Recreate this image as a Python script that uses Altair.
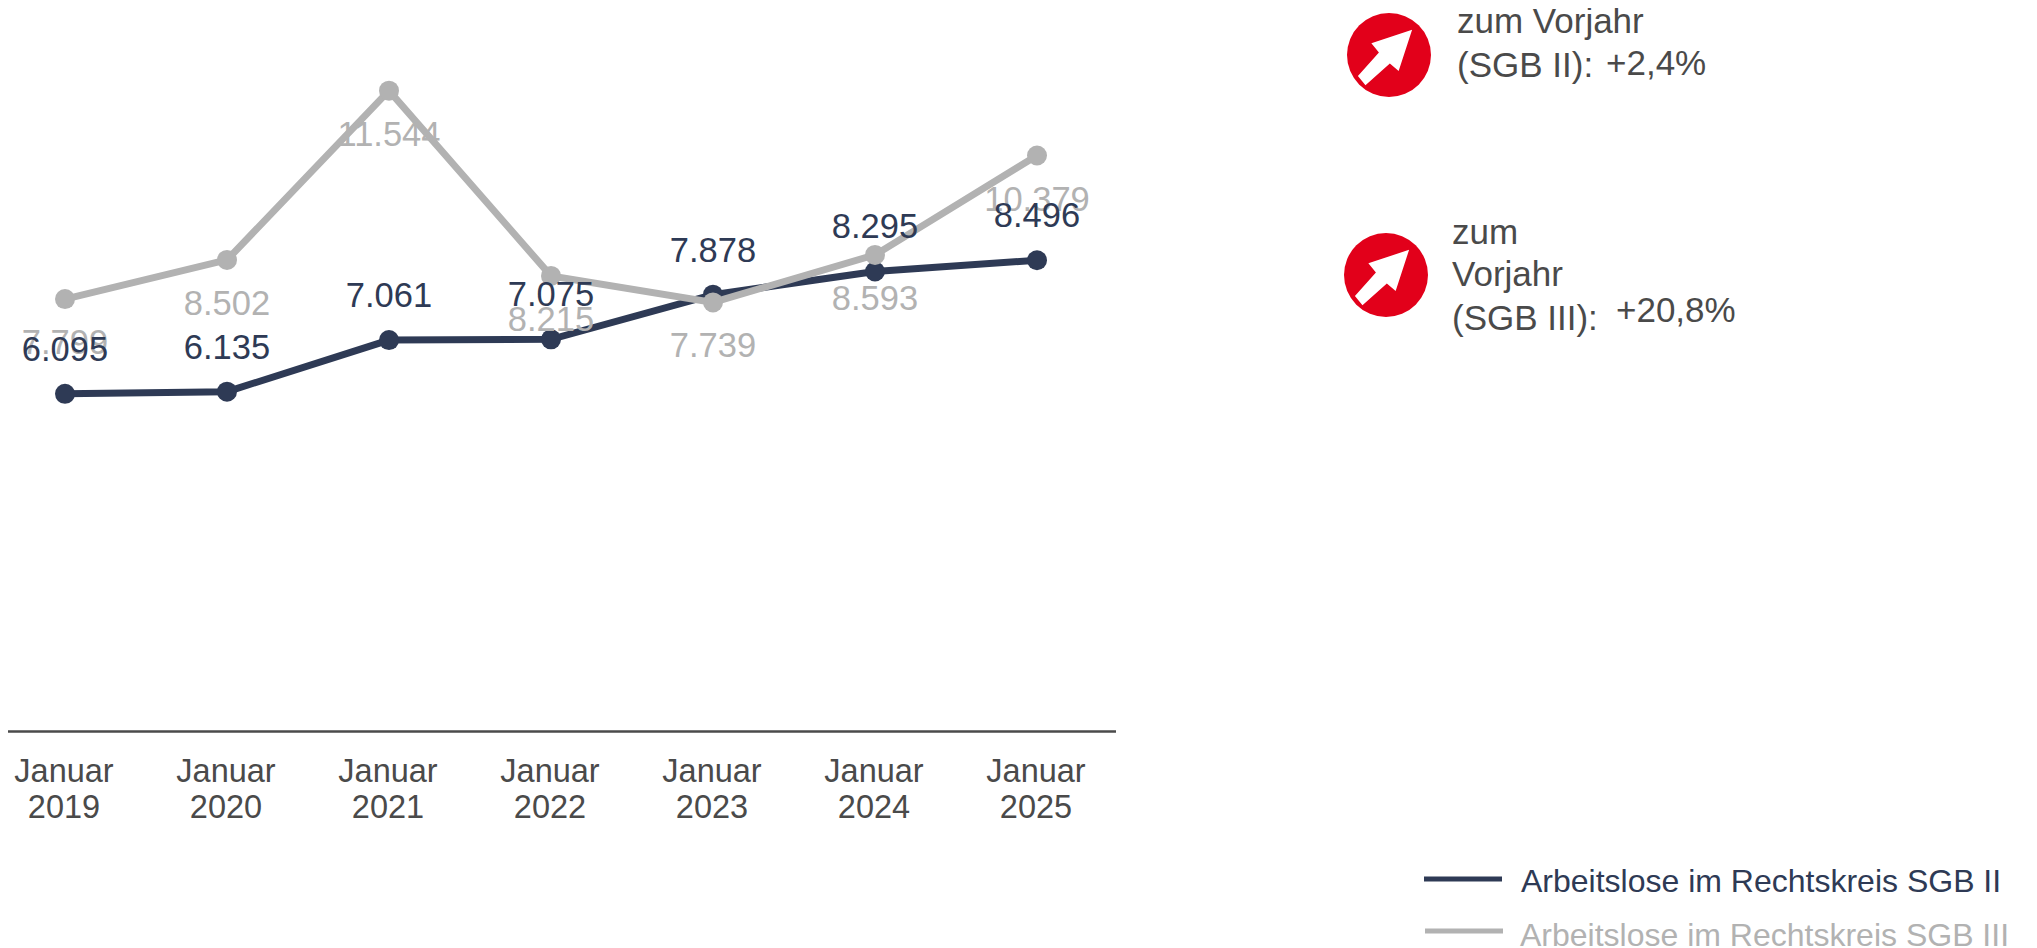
import altair as alt
import pandas as pd

months = ["Januar 2019", "Januar 2020", "Januar 2021", "Januar 2022", "Januar 2023", "Januar 2024", "Januar 2025"]
sgb2 = [6095, 6135, 7061, 7075, 7878, 8295, 8496]
sgb3 = [7799, 8502, 11544, 8215, 7739, 8593, 10379]
series_names = ["Arbeitslose im Rechtskreis SGB II", "Arbeitslose im Rechtskreis SGB III"]

DARK = "#2E3A55"
GRAY = "#B2B2B2"
TEXT = "#4A4A4A"
RED = "#E2001A"
FONT = "Liberation Sans"
PLOT_W, PLOT_H = 1108, 725


def lab(v):
    return f"{v:,}".replace(",", ".")


d2 = pd.DataFrame({"m": months, "v": sgb2, "t": [lab(v) for v in sgb2]})
d3 = pd.DataFrame({"m": months, "v": sgb3, "t": [lab(v) for v in sgb3]})

xs = alt.Scale(type="point", domain=months, range=[57, 1029], padding=0)
ys = alt.Scale(domain=[0, 13030], nice=False, zero=False)
X = alt.X("m:N", scale=xs, sort=months, title=None,
          axis=alt.Axis(domain=False, ticks=False, grid=False, labelAngle=0,
                        labelExpr="split(datum.label, ' ')", labelFont=FONT, labelFontSize=32.5,
                        labelColor=TEXT, labelPadding=22, labelLineHeight=36, labelBaseline="top",
                        labelOffset=-1.5, labelOverlap=False))
Y = alt.Y("v:Q", scale=ys, title=None, axis=None)


def series(df, color):
    base = alt.Chart(df).encode(x=X, y=Y)
    return (base.mark_line(color=color, strokeWidth=7),
            base.mark_point(color=color, filled=True, opacity=1, size=400))


def labels(df, color, dy):
    return alt.Chart(df).mark_text(color=color, font=FONT, fontSize=34.5, dy=dy, baseline="middle").encode(
        x=X, y=Y, text="t:N")


def note(text, x, y, size=35, color=TEXT):
    return alt.Chart(pd.DataFrame({"t": [text]})).mark_text(
        color=color, font=FONT, fontSize=size, align="left", baseline="alphabetic"
    ).encode(x=alt.value(x - 8), y=alt.value(y - 8), text="t:N")


ARROW = "M0.55,-0.6 L0.23,0.38 L0.02,0.2 L-0.56,0.72 L-0.74,0.5 L-0.24,-0.06 L-0.42,-0.28 Z"


def icon(x, y):
    one = alt.Chart(pd.DataFrame({"k": [1]}))
    return (one.mark_point(shape="circle", filled=True, color=RED, opacity=1, size=7056)
            .encode(x=alt.value(x - 8), y=alt.value(y - 8)),
            one.mark_point(shape=ARROW, filled=True, color="white", opacity=1, size=7056)
            .encode(x=alt.value(x - 8), y=alt.value(y - 8)))


def legend_line(x1, x2, y, color):
    return alt.Chart(pd.DataFrame({"k": [1]})).mark_rule(color=color, strokeWidth=5).encode(
        x=alt.value(x1 - 8), x2=alt.value(x2 - 8), y=alt.value(y - 8))


baseline = alt.Chart(pd.DataFrame({"k": [1]})).mark_rule(color=TEXT, strokeWidth=2.5).encode(
    x=alt.value(0), x2=alt.value(PLOT_W), y=alt.value(PLOT_H - 1.5))

l2, p2 = series(d2, DARK)
l3, p3 = series(d3, GRAY)
i1a, i1b = icon(1389, 55)
i2a, i2b = icon(1386, 275)

chart = alt.layer(
    baseline, l2, p2, l3, p3,
    labels(d3, GRAY, 45), labels(d2, DARK, -43),
    i1a, i1b, i2a, i2b,
    note("zum Vorjahr", 1457, 33),
    note("(SGB II):", 1457, 77),
    note("+2,4%", 1606, 75),
    note("zum", 1452, 244),
    note("Vorjahr", 1452, 286),
    note("(SGB III):", 1452, 330),
    note("+20,8%", 1616, 322),
    legend_line(1424, 1502, 879, DARK),
    legend_line(1425, 1503, 931, GRAY),
    note(series_names[0], 1521, 892, 32, DARK),
    note(series_names[1], 1520, 946, 32, GRAY),
).properties(
    width=PLOT_W, height=PLOT_H, autosize="none",
    padding={"left": 0, "top": 0, "right": 913, "bottom": 215},
).configure_view(stroke=None)

chart.save("out.html", embed_options={"renderer": "svg", "actions": False})
